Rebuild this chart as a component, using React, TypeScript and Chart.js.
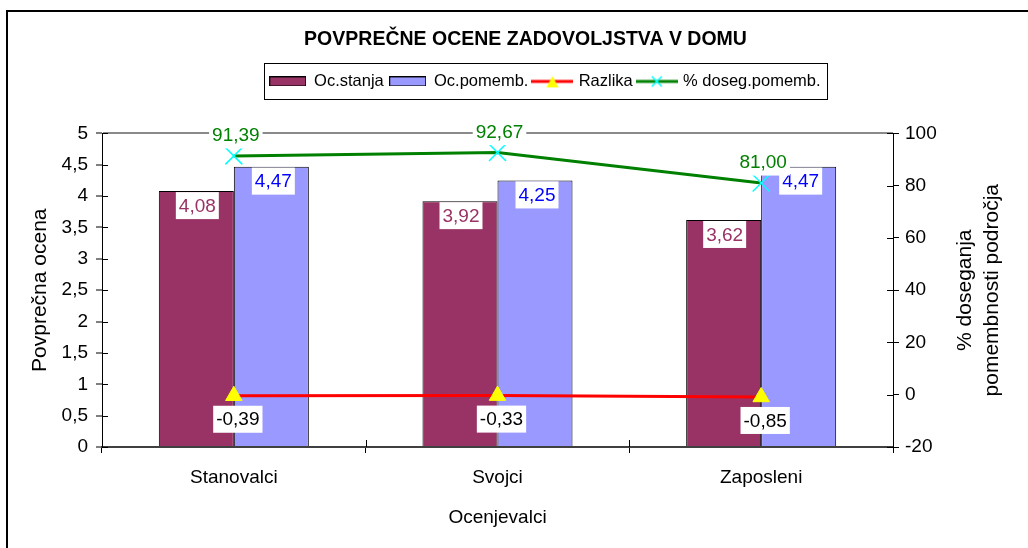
import React, { useEffect, useRef } from 'react';
import { Chart, registerables } from 'chart.js';

Chart.register(...registerables);

const categories = ['Stanovalci', 'Svojci', 'Zaposleni'];
const ocStanja = [4.08, 3.92, 3.62];
const ocPomemb = [4.47, 4.25, 4.47];
const razlika = [-0.39, -0.33, -0.85];
const dosegPomemb = [91.39, 92.67, 81.0];
const seriesNames = ['Oc.stanja', 'Oc.pomemb.', 'Razlika', '% doseg.pomemb.'];
const chartTitle = 'POVPREČNE OCENE ZADOVOLJSTVA V DOMU';
const xTitle = 'Ocenjevalci';
const yTitle = 'Povprečna ocena';
const y1Title = ['% doseganja', 'pomembnosti področja'];

const FONT = "'Liberation Sans', Arial, Helvetica, sans-serif";
const COLORS = {
  stanja: '#993366',
  pomemb: '#9999FF',
  razlika: '#FF0000',
  triangle: '#FFFF00',
  doseg: '#008000',
  cross: '#00FFFF',
};

const fmt = (v: number) => v.toFixed(2).replace('.', ',');

function barSwatch(color: string) {
  const c = document.createElement('canvas');
  c.width = 37;
  c.height = 10;
  const g = c.getContext('2d')!;
  g.fillStyle = color;
  g.fillRect(0, 0, 37, 10);
  g.strokeStyle = '#000';
  g.lineWidth = 1;
  g.strokeRect(0.5, 0.5, 36, 9);
  return c;
}

function lineSwatch(lineColor: string, marker: 'tri' | 'x', markerColor: string) {
  const c = document.createElement('canvas');
  c.width = 42;
  c.height = 14;
  const g = c.getContext('2d')!;
  g.strokeStyle = lineColor;
  g.lineWidth = 3;
  g.beginPath();
  g.moveTo(0, 7);
  g.lineTo(42, 7);
  g.stroke();
  if (marker === 'tri') {
    g.fillStyle = markerColor;
    g.beginPath();
    g.moveTo(21, 1.5);
    g.lineTo(27, 13);
    g.lineTo(15, 13);
    g.closePath();
    g.fill();
  } else {
    g.strokeStyle = markerColor;
    g.lineWidth = 1.5;
    g.beginPath();
    g.moveTo(16, 2);
    g.lineTo(26, 12);
    g.moveTo(26, 2);
    g.lineTo(16, 12);
    g.stroke();
  }
  return c;
}

const labelCfg = [
  { color: '#993366', dx: 1, dy: 14.5 },
  { color: '#0000FF', dx: 2, dy: 14.5 },
  { color: '#000000', dx: 4, dy: 23.5 },
  { color: '#008000', dx: 2, dy: -21 },
];

const customPlugin = {
  id: 'customDecor',
  beforeLayout(chart: any) {
    const lg = chart.legend;
    if (lg && !lg.__patched) {
      const orig = Object.getPrototypeOf(lg).fit;
      lg.fit = function () {
        orig.call(this);
        this.height = 70;
      };
      lg.__patched = true;
    }
  },
  afterLayout(chart: any) {
    const lg = chart.legend;
    if (lg) {
      chart.$boxTop = lg.top;
      lg.top += 3.75;
      lg.bottom += 3.75;
      const w = lg.right - lg.left;
      lg.left = 263.8;
      lg.right = lg.left + w;
    }
    const t = chart.titleBlock;
    if (t) {
      t.left += 11.5;
      t.right += 11.5;
    }
  },
  afterDraw(chart: any) {
    const ctx = chart.ctx as CanvasRenderingContext2D;
    const ca = chart.chartArea;
    ctx.save();

    // outer frame
    ctx.strokeStyle = '#000';
    ctx.lineWidth = 2;
    ctx.beginPath();
    ctx.moveTo(7, chart.height);
    ctx.lineTo(7, 11);
    ctx.lineTo(chart.width, 11);
    ctx.stroke();

    // legend frame
    const lg = chart.legend;
    if (lg && lg.legendHitBoxes && lg.legendHitBoxes.length) {
      const hb = lg.legendHitBoxes;
      const minL = Math.min(...hb.map((h: any) => h.left));
      const maxR = Math.max(...hb.map((h: any) => h.left + h.width));
      ctx.lineWidth = 1;
      ctx.strokeStyle = '#000';
      const x0 = Math.round(minL - 6) + 0.5;
      const x1 = Math.round(maxR + 6) + 0.5;
      ctx.strokeRect(x0, Math.round(chart.$boxTop) + 0.5, x1 - x0, 36);
    }

    // inner halves of crossing tick marks
    ctx.strokeStyle = '#000';
    ctx.lineWidth = 1;
    const ys = chart.scales.y;
    ys.ticks.forEach((_t: any, i: number) => {
      const py = Math.round(ys.getPixelForTick(i)) + 0.5;
      ctx.beginPath();
      ctx.moveTo(ca.left, py);
      ctx.lineTo(ca.left + 6, py);
      ctx.stroke();
    });
    const y1 = chart.scales.y1;
    y1.ticks.forEach((_t: any, i: number) => {
      const py = Math.round(y1.getPixelForTick(i)) + 0.5;
      ctx.beginPath();
      ctx.moveTo(ca.right - 6, py);
      ctx.lineTo(ca.right, py);
      ctx.stroke();
    });
    const xs = chart.scales.x;
    for (let i = 0; i <= categories.length; i++) {
      const px = Math.round(xs.getPixelForValue(i - 0.5)) + 0.5;
      ctx.beginPath();
      ctx.moveTo(px, ca.bottom - 7);
      ctx.lineTo(px, ca.bottom);
      ctx.stroke();
    }

    // right axis title (reads bottom to top)
    ctx.fillStyle = '#000';
    ctx.font = `21px ${FONT}`;
    ctx.textAlign = 'center';
    ctx.textBaseline = 'middle';
    const cy = (ca.top + ca.bottom) / 2;
    y1Title.forEach((line, i) => {
      ctx.save();
      ctx.translate(ca.right + 72 + i * 27, cy);
      ctx.rotate(-Math.PI / 2);
      ctx.fillText(line, 0, 0);
      ctx.restore();
    });

    // data labels
    ctx.font = `19px ${FONT}`;
    chart.data.datasets.forEach((ds: any, di: number) => {
      const meta = chart.getDatasetMeta(di);
      const cfg = labelCfg[di];
      meta.data.forEach((el: any, i: number) => {
        const txt = fmt(ds.data[i]);
        const w = ctx.measureText(txt).width + 6;
        const h = 27;
        const cx = el.x + cfg.dx;
        const cyy = el.y + cfg.dy;
        ctx.fillStyle = '#fff';
        ctx.fillRect(cx - w / 2, cyy - h / 2, w, h);
        ctx.fillStyle = cfg.color;
        ctx.textAlign = 'center';
        ctx.textBaseline = 'middle';
        ctx.fillText(txt, cx, cyy + 1);
      });
    });

    ctx.restore();
  },
};

export default function App() {
  const ref = useRef<HTMLCanvasElement>(null);

  useEffect(() => {
    if (!ref.current) return;
    Chart.defaults.font.family = FONT;
    Chart.defaults.color = '#000';

    const swatches = [
      barSwatch(COLORS.stanja),
      barSwatch(COLORS.pomemb),
      lineSwatch(COLORS.razlika, 'tri', COLORS.triangle),
      lineSwatch(COLORS.doseg, 'x', COLORS.cross),
    ];

    const chart = new Chart(ref.current, {
      type: 'bar',
      data: {
        labels: categories,
        datasets: [
          {
            type: 'bar',
            label: seriesNames[0],
            data: ocStanja,
            yAxisID: 'y',
            backgroundColor: COLORS.stanja,
            borderColor: '#000',
            borderWidth: 1,
            categoryPercentage: 0.569,
            barPercentage: 1,
            order: 1,
          },
          {
            type: 'bar',
            label: seriesNames[1],
            data: ocPomemb,
            yAxisID: 'y',
            backgroundColor: COLORS.pomemb,
            borderColor: '#000',
            borderWidth: 1,
            categoryPercentage: 0.569,
            barPercentage: 1,
            order: 1,
          },
          {
            type: 'line',
            label: seriesNames[2],
            data: razlika,
            yAxisID: 'y1',
            borderColor: COLORS.razlika,
            borderWidth: 3,
            tension: 0,
            pointStyle: 'triangle',
            pointRadius: 9.5,
            pointBackgroundColor: COLORS.triangle,
            pointBorderColor: COLORS.triangle,
            pointBorderWidth: 1,
            order: 0,
          },
          {
            type: 'line',
            label: seriesNames[3],
            data: dosegPomemb,
            yAxisID: 'y1',
            borderColor: COLORS.doseg,
            borderWidth: 3,
            tension: 0,
            pointStyle: 'crossRot',
            pointRadius: 12,
            pointBorderColor: COLORS.cross,
            pointBorderWidth: 1.5,
            order: 0,
          },
        ],
      } as any,
      options: {
        responsive: false,
        animation: false,
        events: [],
        layout: { padding: { top: 12, left: 0, right: 0, bottom: 0 } },
        plugins: {
          tooltip: { enabled: false },
          title: {
            display: true,
            text: chartTitle,
            color: '#000',
            font: { size: 19.5, weight: 'bold' },
            padding: { top: 16, bottom: 12 },
          },
          legend: {
            display: true,
            position: 'top',
            align: 'start',
            labels: {
              usePointStyle: true,
              pointStyleWidth: 36,
              padding: 6,
              color: '#000',
              font: { size: 16.5 },
              generateLabels: () =>
                seriesNames.map((name, i) => ({
                  text: name,
                  pointStyle: swatches[i],
                  datasetIndex: i,
                  hidden: false,
                  lineWidth: 0,
                  fillStyle: 'rgba(0,0,0,0)',
                  strokeStyle: 'rgba(0,0,0,0)',
                  fontColor: '#000',
                })),
            },
          },
        },
        scales: {
          x: {
            ticks: { color: '#000', font: { size: 19 }, padding: 13 },
            grid: {
              drawOnChartArea: false,
              offset: true,
              tickColor: '#000',
              tickLength: 6,
            },
            border: { color: '#404040', width: 2 },
            title: {
              display: true,
              text: xTitle,
              color: '#000',
              font: { size: 19 },
              padding: { top: 0, bottom: 18.6 },
            },
            afterFit: (s: any) => {
              s.height = 101;
            },
          },
          y: {
            position: 'left',
            min: 0,
            max: 5,
            ticks: {
              stepSize: 0.5,
              color: '#000',
              font: { size: 19 },
              padding: 8,
              callback: (v: any) => String(v).replace('.', ','),
            },
            grid: {
              drawOnChartArea: true,
              color: (c: any) => (c.tick && c.tick.value === 5 ? '#8a8a8a' : 'rgba(0,0,0,0)'),
              lineWidth: 2,
              tickColor: '#000',
              tickWidth: 1,
              tickLength: 6,
            },
            border: { color: '#000', width: 1 },
            title: {
              display: true,
              text: yTitle,
              color: '#000',
              font: { size: 21 },
              padding: { top: 28, bottom: 0 },
            },
            afterFit: (s: any) => {
              s.width = 102;
            },
          },
          y1: {
            position: 'right',
            min: -20,
            max: 100,
            ticks: { stepSize: 20, color: '#000', font: { size: 19 }, padding: 6 },
            grid: { drawOnChartArea: false, tickColor: '#000', tickLength: 6 },
            border: { color: '#000', width: 1 },
            afterFit: (s: any) => {
              s.width = 135;
            },
          },
        },
      } as any,
      plugins: [customPlugin as any],
    });

    return () => chart.destroy();
  }, []);

  return (
    <div
      style={{
        position: 'absolute',
        left: 0,
        top: 0,
        width: 1028,
        height: 548,
        background: '#fff',
      }}
    >
      <canvas ref={ref} width={1028} height={548} style={{ display: 'block' }} />
    </div>
  );
}
